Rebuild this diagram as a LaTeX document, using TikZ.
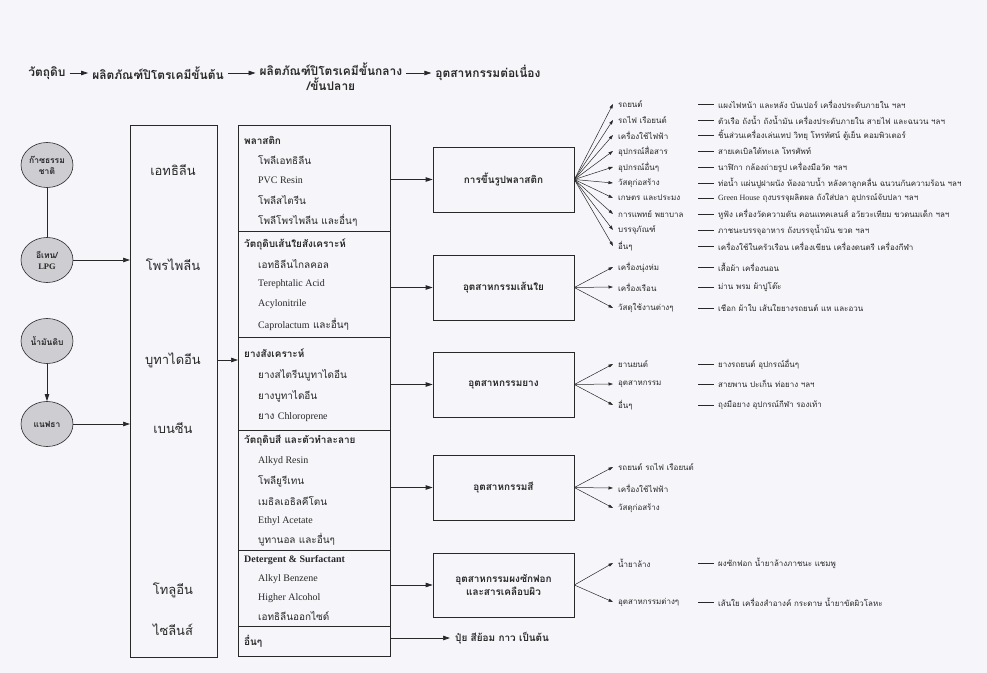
\documentclass[tikz,border=0pt]{standalone}
\usepackage{fontspec}
\setmainfont[Script=Thai]{Loma}
\newfontfamily\lat{Liberation Serif}
\usetikzlibrary{arrows.meta,shapes.geometric}
\definecolor{ink}{RGB}{40,40,40}
\definecolor{paper}{RGB}{246,246,250}
\definecolor{srcfill}{RGB}{205,205,210}
\begin{document}
\begin{tikzpicture}[x=1bp,y=-1bp,
  arr/.style={draw=ink,line width=0.7bp,-{Triangle[length=7bp,width=4.5bp]}},
  sarr/.style={draw=ink,line width=0.5bp,-{Triangle[length=4.5bp,width=3bp]}},
  ln/.style={draw=ink,line width=0.6bp},
  hdr/.style={font=\fontsize{12}{15}\selectfont\bfseries,align=center,inner xsep=4bp,inner ysep=1bp,text=ink},
  src/.style={ellipse,draw=ink,line width=0.6bp,fill=srcfill,minimum width=52bp,minimum height=45bp,inner sep=0pt,align=center,font=\fontsize{8.5}{11}\selectfont\bfseries,text=ink},
  frame/.style={draw=ink,line width=0.7bp,anchor=north west,inner sep=0pt},
  lt/.style={font=\fontsize{13}{15}\selectfont,text=ink,inner sep=1bp},
  mh/.style={anchor=west,inner sep=0pt,font=\fontsize{10}{12}\selectfont\bfseries,text=ink},
  mi/.style={anchor=west,inner sep=0pt,font=\fontsize{10}{12}\selectfont,text=ink},
  ind/.style={draw=ink,line width=0.7bp,minimum width=141bp,minimum height=65bp,align=center,font=\fontsize{10}{14}\selectfont\bfseries,text=ink},
  lab/.style={anchor=west,inner xsep=5bp,inner ysep=0pt,font=\fontsize{8}{10}\selectfont,text=ink},
  dsc/.style={anchor=west,inner xsep=4bp,inner ysep=0pt,font=\fontsize{8}{10}\selectfont,text=ink}
]
\fill[paper] (0,0) rectangle (987,673);
\useasboundingbox (0,0) rectangle (987,673);

% header
\node[hdr] (h1) at (47,73) {วัตถุดิบ};
\node[hdr] (h2) at (158,73) {ผลิตภัณฑ์ปิโตรเคมีขั้นต้น};
\node[hdr] (h3) at (331,77) {ผลิตภัณฑ์ปิโตรเคมีขั้นกลาง\\/ขั้นปลาย};
\node[hdr] (h4) at (488,73) {อุตสาหกรรมต่อเนื่อง};
\draw[arr] (h1.east) -- (h2.west);
\draw[arr] (h2.east) -- (h2.east -| h3.west);
\draw[arr] (h4.west -| h3.east) -- (h4.west);

% sources
\node[src] (e1) at (47,165) {ก๊าซธรรม\\ชาติ};
\node[src] (e2) at (47,260) {อีเทน/\\{\lat LPG}};
\node[src] (e3) at (47,341) {น้ำมันดิบ};
\node[src] (e4) at (47,424) {แนฟธา};
\draw[ln] (e1) -- (e2);
\draw[arr] (e3) -- (e4);

% base petrochemicals
\node[frame,minimum width=87bp,minimum height=532bp] (lb) at (130,125) {};
\node[lt] (t1) at (173,170) {เอทธิลีน};
\node[lt] (t2) at (173,265) {โพรไพลีน};
\node[lt] (t3) at (173,360) {บูทาไดอีน};
\node[lt] (t4) at (173,428) {เบนซีน};
\node[lt] (t5) at (173,590) {โทลูอีน};
\node[lt] (t6) at (173,630) {ไซลีนส์};
\draw[arr] (e2.east) -- (e2.east -| lb.west);
\draw[arr] (e4.east) -- (e4.east -| lb.west);

% intermediate products
\node[frame,minimum width=152bp,minimum height=531bp] (mb) at (238,125) {};
\draw[arr] (t3.east -| lb.east) -- (t3.east -| mb.west);
\foreach \yy in {231,337,430,550,626} \draw[ln] (238,\yy) -- (390,\yy);

\node[mh] (m1) at (244,140) {พลาสติก};
\node[mi] (m1a) at (258,160) {โพลีเอทธิลีน};
\node[mi] (m1b) at (258,180) {\lat PVC Resin};
\node[mi] (m1c) at (258,200) {โพลีสไตรีน};
\node[mi] (m1d) at (258,220) {โพลีโพรไพลีน และอื่นๆ};

\node[mh] (m2) at (244,244) {วัตถุดิบเส้นใยสังเคราะห์};
\node[mi] (m2a) at (258,264) {เอทธิลีนไกลคอล};
\node[mi] (m2b) at (258,284) {\lat Terephtalic Acid};
\node[mi] (m2c) at (258,304) {\lat Acylonitrile};
\node[mi] (m2d) at (258,324) {{\lat Caprolactum} และอื่นๆ};

\node[mh] (m3) at (244,353) {ยางสังเคราะห์};
\node[mi] (m3a) at (258,375) {ยางสไตรีนบูทาไดอีน};
\node[mi] (m3b) at (258,396) {ยางบูทาไดอีน};
\node[mi] (m3c) at (258,417) {ยาง {\lat Chloroprene}};

\node[mh] (m4) at (244,441) {วัตถุดิบสี และตัวทำละลาย};
\node[mi] (m4a) at (258,461) {\lat Alkyd Resin};
\node[mi] (m4b) at (258,481) {โพลียูรีเทน};
\node[mi] (m4c) at (258,501) {เมธิลเอธิลคีโตน};
\node[mi] (m4d) at (258,521) {\lat Ethyl Acetate};
\node[mi] (m4e) at (258,540) {บูทานอล และอื่นๆ};

\node[mh] (m5) at (244,560) {\lat\bfseries Detergent \& Surfactant};
\node[mi] (m5a) at (258,579) {\lat Alkyl Benzene};
\node[mi] (m5b) at (258,598) {\lat Higher Alcohol};
\node[mi] (m5c) at (258,616) {เอทธิลีนออกไซด์};

\node[mh] (m6) at (244,641) {อื่นๆ};

% industries
\node[ind] (b1) at (503.5,179.5) {การขึ้นรูปพลาสติก};
\node[ind] (b2) at (503.5,287.5) {อุตสาหกรรมเส้นใย};
\node[ind] (b3) at (503.5,384.5) {อุตสาหกรรมยาง};
\node[ind] (b4) at (503.5,487.5) {อุตสาหกรรมสี};
\node[ind,minimum height=64bp] (b5) at (503.5,585) {อุตสาหกรรมผงซักฟอก\\และสารเคลือบผิว};
\node[anchor=west,inner xsep=5bp,font=\fontsize{10}{12}\selectfont\bfseries,text=ink] (pu) at (450,638) {ปุ๋ย สีย้อม กาว เป็นต้น};
\foreach \b in {b1,b2,b3,b4,b5} \draw[arr] (\b.west -| mb.east) -- (\b.west);
\draw[arr] (pu.west -| mb.east) -- (pu.west);

% plastics uses
\foreach \i/\yy/\l/\d in {
 1/104/รถยนต์/แผงไฟหน้า และหลัง บันเปอร์ เครื่องประดับภายใน ฯลฯ,
 2/120/รถไฟ เรือยนต์/ตัวเรือ ถังน้ำ ถังน้ำมัน เครื่องประดับภายใน สายไฟ และฉนวน ฯลฯ,
 3/135/เครื่องใช้ไฟฟ้า/ชิ้นส่วนเครื่องเล่นเทป วิทยุ โทรทัศน์ ตู้เย็น คอมพิวเตอร์,
 4/151/อุปกรณ์สื่อสาร/สายเคเบิลใต้ทะเล โทรศัพท์,
 5/167/อุปกรณ์อื่นๆ/นาฬิกา กล้องถ่ายรูป เครื่องมือวัด ฯลฯ,
 6/183/วัสดุก่อสร้าง/ท่อน้ำ แผ่นปูฝาผนัง ห้องอาบน้ำ หลังคาลูกคลื่น ฉนวนกันความร้อน ฯลฯ,
 7/198/เกษตร และประมง/{\lat Green House} ถุงบรรจุผลิตผล ถังใส่ปลา อุปกรณ์จับปลา ฯลฯ,
 8/214/การแพทย์ พยาบาล/หูฟัง เครื่องวัดความดัน คอนแทคเลนส์ อวัยวะเทียม ขวดนมเด็ก ฯลฯ,
 9/230/บรรจุภัณฑ์/ภาชนะบรรจุอาหาร ถังบรรจุน้ำมัน ขวด ฯลฯ,
 10/246/อื่นๆ/เครื่องใช้ในครัวเรือน เครื่องเขียน เครื่องดนตรี เครื่องกีฬา}
{
 \node[lab] (p\i) at (613,\yy) {\l};
 \node[dsc] (q\i) at (714,\yy) {\d};
 \draw[sarr] (b1.east) -- (p\i.west);
 \draw[ln,line width=0.5bp] ([xshift=-16bp]q\i.west) -- (q\i.west);
}

% fibre uses
\foreach \i/\yy/\l/\d in {
 1/267/เครื่องนุ่งห่ม/เสื้อผ้า เครื่องนอน,
 2/287/เครื่องเรือน/ม่าน พรม ผ้าปูโต๊ะ,
 3/308/วัสดุใช้งานต่างๆ/เชือก ผ้าใบ เส้นใยยางรถยนต์ แห และอวน}
{
 \node[lab] (f\i) at (613,\yy) {\l};
 \node[dsc] (g\i) at (714,\yy) {\d};
 \draw[sarr] (b2.east) -- (f\i.west);
 \draw[ln,line width=0.5bp] ([xshift=-16bp]g\i.west) -- (g\i.west);
}

% rubber uses
\foreach \i/\yy/\l/\d in {
 1/364/ยานยนต์/ยางรถยนต์ อุปกรณ์อื่นๆ,
 2/384/อุตสาหกรรม/สายพาน ปะเก็น ท่อยาง ฯลฯ,
 3/405/อื่นๆ/ถุงมือยาง อุปกรณ์กีฬา รองเท้า}
{
 \node[lab] (r\i) at (613,\yy) {\l};
 \node[dsc] (s\i) at (714,\yy) {\d};
 \draw[sarr] (b3.east) -- (r\i.west);
 \draw[ln,line width=0.5bp] ([xshift=-16bp]s\i.west) -- (s\i.west);
}

% paint uses
\node[lab] (c1) at (613,467) {รถยนต์ รถไฟ เรือยนต์};
\node[lab] (c2) at (613,488) {เครื่องใช้ไฟฟ้า};
\node[lab] (c3) at (613,508) {วัสดุก่อสร้าง};
\foreach \c in {c1,c2,c3} \draw[sarr] (b4.east) -- (\c.west);

% detergent uses
\node[lab] (d1) at (613,563) {น้ำยาล้าง};
\node[dsc] (k1) at (714,563) {ผงซักฟอก น้ำยาล้างภาชนะ แชมพู};
\node[lab] (d2) at (613,602) {อุตสาหกรรมต่างๆ};
\node[dsc] (k2) at (714,602) {เส้นใย เครื่องสำอางค์ กระดาษ น้ำยาขัดผิวโลหะ};
\draw[sarr] (b5.east) -- (d1.west);
\draw[sarr] (b5.east) -- (d2.west);
\draw[ln,line width=0.5bp] ([xshift=-16bp]k1.west) -- (k1.west);
\draw[ln,line width=0.5bp] ([xshift=-16bp]k2.west) -- (k2.west);
\end{tikzpicture}
\end{document}
